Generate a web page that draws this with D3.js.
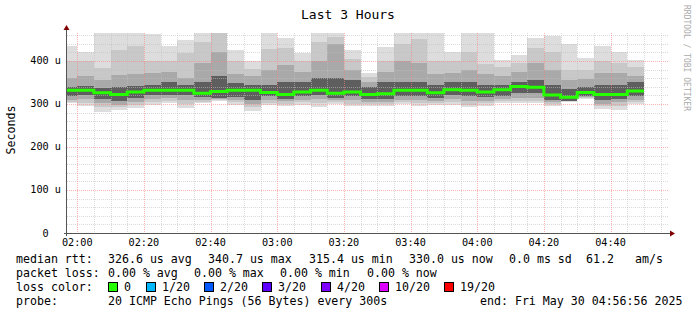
<!DOCTYPE html>
<html><head><meta charset="utf-8">
<script src="https://cdn.jsdelivr.net/npm/d3@7"></script>
<style>
html,body{margin:0;padding:0;background:#fff;}
svg{display:block;font-family:"DejaVu Sans Mono",monospace;}
text{white-space:pre;}
</style></head><body><svg id="c" width="697" height="315"></svg>
<script>
// ---------- data ----------
const binStarts = ["01:55","02:00","02:05","02:10","02:15","02:20","02:25","02:30","02:35","02:40",
  "02:45","02:50","02:55","03:00","03:05","03:10","03:15","03:20","03:25","03:30",
  "03:35","03:40","03:45","03:50","03:55","04:00","04:05","04:10","04:15","04:20",
  "04:25","04:30","04:35","04:40","04:45"];
const median = [332,332,326,322,328,332,332,332,325,329,332,332,327,322,328,332,325,328,322,324,
  332,332,326,333,332,328,333,340.7,339,321,315.4,327,322,322,330];
const pingMax = [434,422,480,480,480,463,436,449,480,480,426,399,480,454,418,480,480,426,372,433,
  480,480,480,422,480,480,403,415,454,459,440,407,434,421,403];
const pingHi2 = [399,399,384,426,434,400,400,418,444,465,400,382,428,430,400,445,455,405,362,400,
  440,450,400,400,422,392,385,395,430,420,378,380,400,395,385];
const pingHi3 = [360,365,355,368,370,372,375,360,395,422,370,365,380,390,375,400,440,380,352,375,
  400,395,370,372,380,370,365,375,395,380,355,358,372,372,365];
const pingHi4 = [340,342,338,340,342,345,350,345,352,365,348,345,345,350,350,360,360,355,340,350,
  350,350,345,350,350,345,345,352,355,345,335,340,345,345,350];
const pingLo4 = [318,320,312,306,315,320,322,320,316,314,316,310,318,312,318,320,315,318,312,312,
  318,318,315,320,318,316,318,326,325,310,308,318,310,312,318];
const pingLo3 = [310,312,302,298,305,312,314,310,310,312,310,300,310,306,310,312,310,310,305,305,
  310,310,308,312,306,308,312,315,315,305,307,316,300,305,310];
const pingLo2 = [305,302,292,292,298,305,306,300,305,310,304,292,303,300,304,302,305,300,300,300,
  305,302,303,305,298,302,306,308,308,300,306,314,295,295,305];
const pingMin = [302,295,281,285,290,297,302,291,302,308,298,283,298,295,298,293,300,295,296,296,
  300,296,298,298,292,296,302,302,302,295,305,312,288,287,300];

const xTickLabels = ["02:00","02:20","02:40","03:00","03:20","03:40","04:00","04:20","04:40"];
const yTicks = [0,100,200,300,400];
const yTickLabels = ["0  ","100 u","200 u","300 u","400 u"];
const lossLabels = ["0","1/20","2/20","3/20","4/20","10/20","19/20"];
const lossColors = ["#26ff00","#00b8ff","#0059ff","#5e00ff","#7e00ff","#dd00ff","#ff0000"];
const smokeColors = ["#dddddd","#c8c8c8","#a9a9a9","#5e5e5e"];

const titleText = "Last 3 Hours";
const yUnitText = "Seconds";
const statLine1 = [["median rtt:",16],["326.6 us avg",108],["340.7 us max",208],["315.4 us min",309],["330.0 us now",409],["0.0 ms sd",509],["61.2",586],["am/s",635]];
const statLine2 = [["packet loss:",16],["0.00 % avg",108],["0.00 % max",194],["0.00 % min",280],["0.00 % now",367]];
const lossBoxX = [108,146,204,262,321,379,444];
const probeText = "20 ICMP Echo Pings (56 Bytes) every 300s";
const endText = "end: Fri May 30 04:56:56 2025";

// ---------- layout ----------
const L = 67, R = 667, T = 33, B = 233;
const day = "2025-05-30T";
const tp = s => new Date(day + s + ":00Z");
const tStart = new Date(day + "01:56:56Z"), tEnd = new Date(day + "04:56:56Z");
const x = d3.scaleUtc().domain([tStart, tEnd]).range([L, R]);
const y = d3.scaleLinear().domain([0, 465.1]).range([B, T]);
const svg = d3.select("#c");
svg.append("rect").attr("width",697).attr("height",315).attr("fill","#fff");
svg.append("defs").append("clipPath").attr("id","pc").append("rect")
  .attr("x",L).attr("y",T).attr("width",R-L).attr("height",B-T);

const bins = binStarts.map((s,i)=>{
  const t0 = tp(s), t1 = new Date(+t0 + 5*60000);
  return {x0: Math.max(x(t0), L), x1: x(t1), med: median[i],
    layers: [[pingMin[i],pingMax[i]],[pingLo2[i],pingHi2[i]],[pingLo3[i],pingHi3[i]],[pingLo4[i],pingHi4[i]]]};
});

const g = svg.append("g").attr("clip-path","url(#pc)").attr("shape-rendering","crispEdges");
smokeColors.forEach((c,li)=>{
  g.selectAll(null).data(bins).enter().append("rect")
    .attr("x",d=>Math.round(d.x0)).attr("width",d=>Math.round(d.x1)-Math.round(d.x0))
    .attr("y",d=>Math.round(y(d.layers[li][1])))
    .attr("height",d=>Math.round(y(d.layers[li][0]))-Math.round(y(d.layers[li][1])))
    .attr("fill",c);
});

// grid
const grid = svg.append("g").attr("shape-rendering","crispEdges");
const minorY = d3.range(20, 465, 20).filter(v=>v%100!==0);
grid.selectAll(null).data(minorY).enter().append("line")
  .attr("x1",L).attr("x2",R+1).attr("y1",d=>Math.round(y(d))+0.5).attr("y2",d=>Math.round(y(d))+0.5)
  .attr("stroke","rgba(192,192,192,0.59)").attr("stroke-dasharray","1,1");
const minorX = d3.utcMinute.every(5).range(tStart, tEnd).filter(t=>t.getUTCMinutes()%20!==0);
grid.selectAll(null).data(minorX).enter().append("line")
  .attr("y1",T).attr("y2",B).attr("x1",d=>Math.round(x(d))+0.5).attr("x2",d=>Math.round(x(d))+0.5)
  .attr("stroke","rgba(192,192,192,0.59)").attr("stroke-dasharray","1,1");
grid.selectAll(null).data(yTicks.slice(1)).enter().append("line")
  .attr("x1",L).attr("x2",R+1).attr("y1",d=>Math.round(y(d))+0.5).attr("y2",d=>Math.round(y(d))+0.5)
  .attr("stroke","rgba(255,128,128,0.59)").attr("stroke-dasharray","1,1");
const majorX = xTickLabels.map(tp);
grid.selectAll(null).data(majorX).enter().append("line")
  .attr("y1",T).attr("y2",B).attr("x1",d=>Math.round(x(d))+0.5).attr("x2",d=>Math.round(x(d))+0.5)
  .attr("stroke","rgba(255,128,128,0.59)").attr("stroke-dasharray","1,1");

// median line
const medPts = bins.map(d=>[d.x0,y(d.med)]);
medPts.push([bins[bins.length-1].x1, y(median[median.length-1])]);
svg.append("path").attr("d", d3.line().curve(d3.curveStepAfter)(medPts))
  .attr("fill","none").attr("stroke",lossColors[0]).attr("stroke-width",3);

// axes
const ax = svg.append("g").attr("shape-rendering","crispEdges");
ax.append("line").attr("x1",L-0.5).attr("x2",L-0.5).attr("y1",B+3).attr("y2",T-4).attr("stroke","#555");
ax.append("line").attr("x1",L-3).attr("x2",R+4).attr("y1",B+0.5).attr("y2",B+0.5).attr("stroke","#555");
svg.append("path").attr("d",`M${L-3.5},${T-3}L${L+2.5},${T-3}L${L-0.5},${T-8}Z`).attr("fill","#800000");
svg.append("path").attr("d",`M${R+3},${B-2.5}L${R+3},${B+3.5}L${R+8},${B+0.5}Z`).attr("fill","#800000");

// tick labels
svg.selectAll(null).data(xTickLabels).enter().append("text")
  .attr("x",d=>x(tp(d))).attr("y",B+13).attr("text-anchor","middle")
  .attr("font-size","10.2px").attr("fill","#000").text(d=>d);
svg.selectAll(null).data(yTicks).enter().append("text")
  .attr("x",61).attr("y",d=>y(d)+3.5).attr("text-anchor","end")
  .attr("font-size","10.2px").attr("fill","#000").text((d,i)=>yTickLabels[i]);

// title, unit
svg.append("text").attr("x",348).attr("y",19).attr("text-anchor","middle")
  .attr("font-size","13px").text(titleText);
svg.append("text").attr("transform","translate(15,130) rotate(-90)").attr("text-anchor","middle")
  .attr("font-size","11.6px").text(yUnitText);
svg.append("text").attr("transform","translate(684,5) rotate(90)")
  .attr("font-size","8px").attr("fill","#aaa").text("RRDTOOL / TOBI OETIKER");

// legend
const fs = "11.6px";
statLine1.forEach(([t,xx])=>svg.append("text").attr("x",xx).attr("y",263).attr("font-size",fs).text(t));
statLine2.forEach(([t,xx])=>svg.append("text").attr("x",xx).attr("y",277).attr("font-size",fs).text(t));
svg.append("text").attr("x",16).attr("y",291).attr("font-size",fs).text("loss color:");
lossLabels.forEach((t,i)=>{
  svg.append("rect").attr("x",lossBoxX[i]+0.5).attr("y",282.5).attr("width",9).attr("height",9)
    .attr("fill",lossColors[i]).attr("stroke","#000").attr("stroke-width",1);
  svg.append("text").attr("x",lossBoxX[i]+16).attr("y",291).attr("font-size",fs).text(t);
});
svg.append("text").attr("x",16).attr("y",305).attr("font-size",fs).text("probe:");
svg.append("text").attr("x",108).attr("y",305).attr("font-size",fs).text(probeText);
svg.append("text").attr("x",480).attr("y",305).attr("font-size",fs).text(endText);
</script></body></html>
